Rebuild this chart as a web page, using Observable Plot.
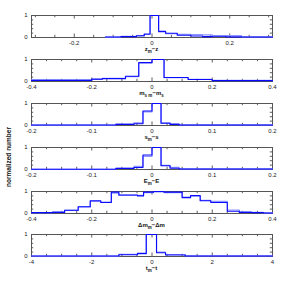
<!DOCTYPE html>
<html><head><meta charset="utf-8">
<script src="https://cdn.jsdelivr.net/npm/d3@7"></script>
<script src="https://cdn.jsdelivr.net/npm/@observablehq/plot@0.6"></script>
<style>
body{margin:0;background:#fff;}
#root{position:relative;width:287px;height:287px;overflow:hidden;font-family:"Liberation Sans",Arial,Helvetica,sans-serif;}
.panel{position:absolute;left:0;}
.xl{position:absolute;left:0;width:303px;text-align:center;font-size:6px;font-weight:bold;line-height:7px;color:#111;}
.xl sub{font-size:4.5px;vertical-align:-1.5px;}
.yl{position:absolute;left:8px;top:157px;transform:translate(-50%,-50%) rotate(-90deg);white-space:nowrap;font-size:6.5px;font-weight:bold;color:#111;}
</style></head>
<body><div id="root"></div>
<script>
// ---- data ----
const zEdges  = [-0.12, -0.08, -0.04, -0.02, -0.005, 0.017, 0.035, 0.065, 0.1, 0.13, 0.155, 0.19, 0.23, 0.31];
const zDark   = [0.02, 0.04, 0.08, 0.15, 1.0, 0.28, 0.19, 0.1, 0.07, 0.04, 0.06, 0.03, 0.02];
const zLight  = [0.02, 0.05, 0.07, 0.17, 1.0, 0.25, 0.17, 0.14, 0.13, 0.12, 0.07, 0.09, 0.03];

const msEdges = [-0.4, -0.2, -0.165, -0.088, -0.044, 0, 0.04, 0.12, 0.2, 0.4];
const msDark  = [0.05, 0.11, 0.13, 0.24, 0.86, 1.0, 0.18, 0.09, 0.04];
const msLight = [0.07, 0.09, 0.14, 0.22, 0.84, 1.0, 0.17, 0.1, 0.05];

const sEdges  = [-0.2, -0.06, -0.03, -0.015, 0, 0.015, 0.03, 0.045, 0.2];
const sDark   = [0.02, 0.05, 0.08, 0.66, 1.0, 0.1, 0.05, 0.02];
const sLight  = [0.02, 0.06, 0.12, 0.62, 1.0, 0.12, 0.07, 0.03];

const eEdges  = [-0.2, -0.06, -0.03, -0.015, 0, 0.015, 0.03, 0.045, 0.2];
const eDark   = [0.01, 0.05, 0.09, 0.66, 1.0, 0.17, 0.06, 0.02];
const eLight  = [0.01, 0.05, 0.14, 0.6, 1.0, 0.19, 0.1, 0.03];

const dmEdges = [-0.4, -0.33, -0.29, -0.245, -0.205, -0.17, -0.135, -0.11, -0.048, -0.028, 0.005, 0.04, 0.1, 0.128, 0.16, 0.195, 0.25, 0.29, 0.33, 0.37, 0.4];
const dmDark  = [0.04, 0.05, 0.15, 0.31, 0.58, 0.5, 0.97, 0.84, 0.8, 0.97, 1.0, 0.97, 0.72, 0.82, 0.58, 0.5, 0.1, 0.05, 0.04, 0.02];
const dmLight = [0.04, 0.08, 0.14, 0.3, 0.55, 0.52, 0.93, 0.82, 0.82, 0.95, 0.98, 0.95, 0.75, 0.78, 0.6, 0.55, 0.16, 0.07, 0.05, 0.03];

const tEdges  = [-4, -1.1, -0.48, -0.19, 0.15, 0.45, 1.1, 4];
const tDark   = [0.02, 0.08, 0.14, 1.0, 0.17, 0.07, 0.02];
const tLight  = [0.02, 0.1, 0.12, 1.0, 0.2, 0.09, 0.03];

const zTicks  = [-0.2, 0, 0.2];
const msTicks = [-0.4, -0.2, 0, 0.2, 0.4];
const sTicks  = [-0.2, -0.1, 0, 0.1, 0.2];
const eTicks  = [-0.2, -0.1, 0, 0.1, 0.2];
const dmTicks = [-0.4, -0.2, 0, 0.2, 0.4];
const tTicks  = [-4, -2, 0, 2, 4];
const yTicks  = [0, 1];

const axisLabels = [
  "z<sub>m</sub>−z",
  "m<sub>s m</sub>−m<sub>s</sub>",
  "s<sub>m</sub>−s",
  "E<sub>m</sub>−E",
  "Δm<sub>m</sub>−Δm",
  "t<sub>m</sub>−t"
];
const yLabel = "normalized number";

// ---- options built from the data ----
const panels = [
  {edges: zEdges,  dark: zDark,  light: zLight,  domain: [-0.31, 0.31], ticks: zTicks,  step: 0.05},
  {edges: msEdges, dark: msDark, light: msLight, domain: [-0.4, 0.4],   ticks: msTicks, step: 0.05},
  {edges: sEdges,  dark: sDark,  light: sLight,  domain: [-0.2, 0.2],   ticks: sTicks,  step: 0.025},
  {edges: eEdges,  dark: eDark,  light: eLight,  domain: [-0.2, 0.2],   ticks: eTicks,  step: 0.025},
  {edges: dmEdges, dark: dmDark, light: dmLight, domain: [-0.4, 0.4],   ticks: dmTicks, step: 0.05},
  {edges: tEdges,  dark: tDark,  light: tLight,  domain: [-4, 4],       ticks: tTicks,  step: 0.5}
];
const frameTops = [15, 59, 103, 147, 191, 234];
const FH = 22, MT = 3, MB = 19, ML = 31, MR = 15, W = 287;
const DARK = "#0a0aff", LIGHT = "#8f96ff", FRAME = "#555";

function steps(edges, vals) {
  const a = vals.map((v, k) => ({x: edges[k], y: v}));
  a.push({x: edges[edges.length - 1], y: vals[vals.length - 1]});
  return a;
}

const root = document.getElementById("root");
panels.forEach((p, i) => {
  const [x0, x1] = p.domain;
  const span = x1 - x0;
  const pw = W - ML - MR;
  const major = 3.5 / pw * span, minorL = 2.2 / pw * span;
  const n0 = Math.ceil(x0 / p.step - 1e-6), n1 = Math.floor(x1 / p.step + 1e-6);
  const xt = d3.range(n0, n1 + 1).map(k => +(k * p.step).toFixed(6));
  const isMajor = d => p.ticks.some(t => Math.abs(t - d) < 1e-9);
  const xMaj = xt.filter(isMajor), xMin = xt.filter(d => !isMajor(d));
  const yMin = [0.2, 0.4, 0.6, 0.8];
  const chart = Plot.plot({
    width: W, height: FH + MT + MB,
    marginLeft: ML, marginRight: MR, marginTop: MT, marginBottom: MB,
    x: {domain: p.domain},
    y: {domain: [0, 1]},
    style: {fontFamily: '"Liberation Sans", Arial, sans-serif', fontSize: "6px", color: "#222", background: "transparent"},
    marks: [
      Plot.ruleX(xMaj, {x: d => d, y1: 0, y2: 0.16, stroke: "#333", strokeWidth: 0.8}),
      Plot.ruleX(xMaj, {x: d => d, y1: 0.84, y2: 1, stroke: "#333", strokeWidth: 0.8}),
      Plot.ruleX(xMin, {x: d => d, y1: 0, y2: 0.1, stroke: "#333", strokeWidth: 0.8}),
      Plot.ruleX(xMin, {x: d => d, y1: 0.9, y2: 1, stroke: "#333", strokeWidth: 0.8}),
      Plot.ruleY(yMin, {y: d => d, x1: x0, x2: x0 + minorL, stroke: "#333", strokeWidth: 0.8}),
      Plot.ruleY(yMin, {y: d => d, x1: x1 - minorL, x2: x1, stroke: "#333", strokeWidth: 0.8}),
      Plot.ruleY([1], {y: d => d, x1: x0, x2: x0 + major, stroke: "#333", strokeWidth: 0.8}),
      Plot.ruleY([1], {y: d => d, x1: x1 - major, x2: x1, stroke: "#333", strokeWidth: 0.8}),
      Plot.frame({stroke: FRAME, strokeWidth: 1}),
      Plot.line(steps(p.edges, p.light), {x: "x", y: "y", curve: "step-after", stroke: LIGHT, strokeWidth: 1.2}),
      Plot.line(steps(p.edges, p.dark), {x: "x", y: "y", curve: "step-after", stroke: DARK, strokeWidth: 1.1}),
      Plot.axisX({ticks: p.ticks, tickSize: 0, tickPadding: 3, tickFormat: d => String(d), label: null, fill: "#222"}),
      Plot.axisY({ticks: yTicks, tickSize: 0, tickPadding: 4, tickFormat: d => String(d), label: null, fill: "#222"})
    ]
  });
  chart.classList.add("panel");
  chart.style.top = (frameTops[i] - MT) + "px";
  root.appendChild(chart);
  const lab = document.createElement("div");
  lab.className = "xl";
  lab.innerHTML = axisLabels[i];
  lab.style.top = (frameTops[i] + FH + 9) + "px";
  root.appendChild(lab);
});
const yl = document.createElement("div");
yl.className = "yl";
yl.textContent = yLabel;
root.appendChild(yl);
</script>
</body></html>
